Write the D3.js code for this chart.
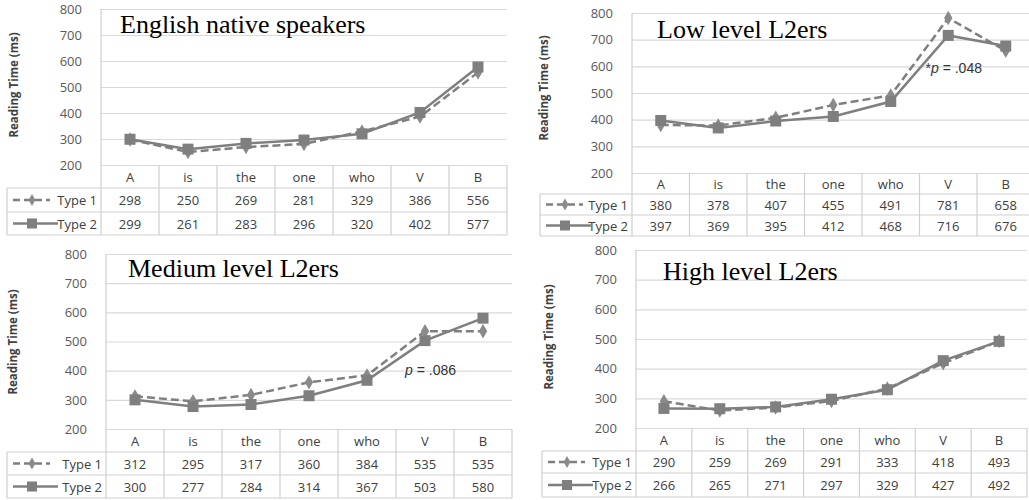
<!DOCTYPE html>
<html>
<head>
<meta charset="utf-8">
<script src="https://cdn.jsdelivr.net/npm/d3@7"></script>
<style>
  html, body { margin: 0; padding: 0; background: #fff; }
  svg { display: block; }
</style>
</head>
<body>
<svg id="chart" width="1029" height="500"></svg>
<script>
// ---------- DATA ----------
const categories = ["A", "is", "the", "one", "who", "V", "B"];
const seriesNames = ["Type 1", "Type 2"];
const yTicks = [200, 300, 400, 500, 600, 700, 800];
const panelTitles = ["English native speakers", "Low level L2ers", "Medium level L2ers", "High level L2ers"];
const yAxisTitle = "Reading Time (ms)";

const englishType1 = [298, 250, 269, 281, 329, 386, 556];
const englishType2 = [299, 261, 283, 296, 320, 402, 577];
const lowType1 = [380, 378, 407, 455, 491, 781, 658];
const lowType2 = [397, 369, 395, 412, 468, 716, 676];
const mediumType1 = [312, 295, 317, 360, 384, 535, 535];
const mediumType2 = [300, 277, 284, 314, 367, 503, 580];
const highType1 = [290, 259, 269, 291, 333, 418, 493];
const highType2 = [266, 265, 271, 297, 329, 427, 492];

const annotationTexts = [null, ["*", "p", " = .048"], [null, "p", " = .086"], null];

// ---------- LAYOUT ----------
const layouts = [
  { left: 101, width: 406, top: 9,   bottom: 165, rows: [165, 188, 212, 235], tableLeft: 7,   labX: 13,  labY: 85,  titleX: 120, titleY: 33 },
  { left: 632, width: 402.5, top: 13, bottom: 173, rows: [173, 194, 215, 236], tableLeft: 540, labX: 543, labY: 88,  titleX: 657, titleY: 38, ann: { cat: "V", dx: 6, v: 575 } },
  { left: 106, width: 406, top: 254, bottom: 429, rows: [429, 452, 475, 498], tableLeft: 7,   labX: 12,  labY: 342, titleX: 128, titleY: 277, ann: { cat: "V", dx: 9, v: 385 } },
  { left: 636, width: 391, top: 250, bottom: 428, rows: [428, 451, 473, 497], tableLeft: 542, labX: 548, labY: 337, titleX: 663, titleY: 280 }
];
const panelSeries = [
  [englishType1, englishType2],
  [lowType1, lowType2],
  [mediumType1, mediumType2],
  [highType1, highType2]
];

const gridColor = "#d9d9d9";
const lineColor = "#7f7f7f";
const textColor = "#404040";
const font = "'Open Sans', 'Liberation Sans', sans-serif";

const svg = d3.select("#chart");

layouts.forEach((L, pi) => {
  const g = svg.append("g");
  const x = d3.scaleBand().domain(categories).range([L.left, L.left + L.width]).paddingInner(0).paddingOuter(0);
  const y = d3.scaleLinear().domain([200, 800]).range([L.bottom, L.top]);
  const cx = c => x(c) + x.bandwidth() / 2;
  const right = L.left + L.width;
  const tableBottom = L.rows[3];

  // gridlines + tick labels via axis
  const ax = g.append("g")
    .attr("transform", `translate(${L.left},0)`)
    .call(d3.axisLeft(y).tickValues(yTicks).tickSize(-L.width).tickPadding(19).tickFormat(d3.format("d")));
  ax.select(".domain").remove();
  ax.selectAll(".tick line").attr("stroke", gridColor).attr("stroke-width", 1.2);
  ax.selectAll(".tick text").attr("fill", "#595959").style("font-family", font).style("font-size", "13px");

  // table lines
  const tl = g.append("g").attr("stroke", "#cfcfcf").attr("stroke-width", 1.2);
  // left axis line (plot + table)
  tl.append("line").attr("x1", L.left).attr("x2", L.left).attr("y1", L.top).attr("y2", tableBottom);
  // column separators
  categories.forEach(c => {
    const xx = x(c) + x.bandwidth();
    tl.append("line").attr("x1", xx).attr("x2", xx).attr("y1", L.bottom).attr("y2", tableBottom);
  });
  // horizontal rows
  [L.rows[1], L.rows[2], L.rows[3]].forEach(yy => {
    tl.append("line").attr("x1", L.tableLeft).attr("x2", right).attr("y1", yy).attr("y2", yy);
  });
  tl.append("line").attr("x1", L.tableLeft).attr("x2", L.tableLeft).attr("y1", L.rows[1]).attr("y2", tableBottom);

  // header labels
  g.append("g").selectAll("text").data(categories).join("text")
    .attr("x", d => cx(d)).attr("y", (L.rows[0] + L.rows[1]) / 2)
    .attr("text-anchor", "middle").attr("dominant-baseline", "central")
    .attr("fill", textColor).style("font-family", font).style("font-size", "13px")
    .text(d => d);

  // value rows
  panelSeries[pi].forEach((vals, si) => {
    const ry = (L.rows[si + 1] + L.rows[si + 2]) / 2;
    g.append("g").selectAll("text").data(vals).join("text")
      .attr("x", (d, i) => cx(categories[i])).attr("y", ry)
      .attr("text-anchor", "middle").attr("dominant-baseline", "central")
      .attr("fill", textColor).style("font-family", font).style("font-size", "13px")
      .text(d => d);
    // legend key
    g.append("text").attr("x", L.left - 4).attr("y", ry)
      .attr("text-anchor", "end").attr("dominant-baseline", "central")
      .attr("fill", textColor).style("font-family", font).style("font-size", "13px")
      .text(seriesNames[si]);
    const kx0 = L.tableLeft + 6;
    if (si === 0) {
      g.append("line").attr("x1", kx0).attr("x2", kx0 + 37).attr("y1", ry).attr("y2", ry)
        .attr("stroke", lineColor).attr("stroke-width", 2.5).attr("stroke-dasharray", "7,4");
      g.append("path").attr("d", d3.symbol(d3.symbolDiamond, 40)())
        .attr("transform", `translate(${kx0 + 19},${ry})`).attr("fill", "#8a8a8a");
    } else {
      g.append("line").attr("x1", kx0).attr("x2", kx0 + 45).attr("y1", ry).attr("y2", ry)
        .attr("stroke", lineColor).attr("stroke-width", 2.5);
      g.append("rect").attr("x", kx0 + 14).attr("y", ry - 5).attr("width", 10).attr("height", 10)
        .attr("fill", lineColor);
    }
  });

  // series lines and markers
  const line = d3.line().x((d, i) => cx(categories[i])).y(d => y(d));
  panelSeries[pi].forEach((vals, si) => {
    g.append("path").datum(vals).attr("d", line)
      .attr("fill", "none").attr("stroke", lineColor).attr("stroke-width", 2.5)
      .attr("stroke-dasharray", si === 0 ? "8,4" : null);
    if (si === 0) {
      g.append("g").selectAll("path").data(vals).join("path")
        .attr("d", d3.symbol(d3.symbolDiamond, 60)())
        .attr("transform", (d, i) => `translate(${cx(categories[i])},${y(d)})`)
        .attr("fill", "#8a8a8a");
    } else {
      g.append("g").selectAll("rect").data(vals).join("rect")
        .attr("x", (d, i) => cx(categories[i]) - 5.5).attr("y", d => y(d) - 5.5)
        .attr("width", 11).attr("height", 11).attr("fill", lineColor);
    }
  });

  // y axis title
  g.append("text")
    .attr("transform", `translate(${L.labX},${L.labY}) rotate(-90)`)
    .attr("text-anchor", "middle").attr("dominant-baseline", "central")
    .attr("fill", textColor).style("font-family", font).style("font-size", "11.5px").style("font-weight", "bold")
    .text(yAxisTitle);

  // panel title
  g.append("text").attr("x", L.titleX).attr("y", L.titleY)
    .attr("fill", "#000").style("font-family", "'Liberation Serif', 'Times New Roman', serif").style("font-size", "26px")
    .text(panelTitles[pi]);

  // annotation
  const at = annotationTexts[pi];
  if (at && L.ann) {
    const t = g.append("text").attr("x", x(L.ann.cat) + L.ann.dx).attr("y", y(L.ann.v))
      .attr("fill", "#333").style("font-family", "'Liberation Sans', Arial, sans-serif").style("font-size", "14px");
    if (at[0]) t.append("tspan").text(at[0]);
    t.append("tspan").style("font-style", "italic").text(at[1]);
    t.append("tspan").text(at[2]);
  }
});
</script>
</body>
</html>
